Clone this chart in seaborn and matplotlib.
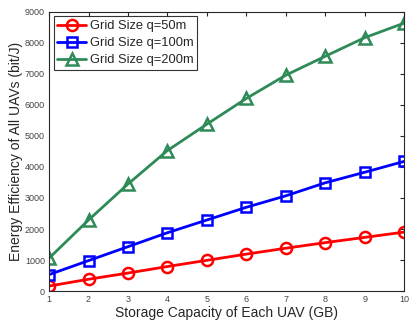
import numpy as np
import pandas as pd
import matplotlib
matplotlib.use('Agg')
import matplotlib.pyplot as plt
import seaborn as sns

# Data
storage_gb = [1, 2, 3, 4, 5, 6, 7, 8, 9, 10]
ee_q50 = [160, 380, 580, 790, 990, 1190, 1380, 1560, 1730, 1900]
ee_q100 = [530, 980, 1430, 1880, 2290, 2700, 3070, 3490, 3830, 4180]
ee_q200 = [1060, 2290, 3450, 4530, 5380, 6210, 6960, 7570, 8170, 8640]
series_labels = ['Grid Size q=50m', 'Grid Size q=100m', 'Grid Size q=200m']
y_ticks = [0, 1000, 2000, 3000, 4000, 5000, 6000, 7000, 8000, 9000]

sns.set_style('white')
plt.rcParams['font.family'] = ['Liberation Sans', 'DejaVu Sans']

fig = plt.figure(figsize=(4.09, 3.23), dpi=100)
ax = fig.add_axes([0.12, 0.099, 0.868, 0.864])

styles = [('#ff0000', 'o'), ('#0000ff', 's'), ('#2e8b57', '^')]
for vals, label, (c, m) in zip([ee_q50, ee_q100, ee_q200], series_labels, styles):
    df = pd.DataFrame({'x': storage_gb, 'y': vals})
    sns.lineplot(data=df, x='x', y='y', ax=ax, color=c, marker=m,
                 markersize=8 if m != 's' else 7, markerfacecolor='none',
                 markeredgecolor=c, markeredgewidth=1.8, linewidth=2,
                 label=label)

ax.set_xlim(1, 10)
ax.set_ylim(0, 9000)
ax.set_xticks(storage_gb)
ax.set_yticks(y_ticks)
ax.tick_params(direction='in', top=True, right=True, labelsize=6.5,
               length=3, width=0.8, colors='#262626', pad=3)
ax.tick_params(labelcolor='#444444')
for s in ax.spines.values():
    s.set_color('#262626')
    s.set_linewidth(0.8)

ax.set_xlabel('Storage Capacity of Each UAV (GB)', fontsize=10, labelpad=1, color='#262626')
ax.set_ylabel('Energy Efficiency of All UAVs (bit/J)', fontsize=10, labelpad=1, color='#262626')

leg = ax.legend(loc='upper left', fontsize=9.3, frameon=True, fancybox=False,
                borderpad=0.3, labelspacing=0.38, handlelength=2.2,
                handletextpad=0.3, borderaxespad=0.35)
leg.get_frame().set_edgecolor('black')
leg.get_frame().set_linewidth(0.8)

fig.savefig('out.png', dpi=100)
